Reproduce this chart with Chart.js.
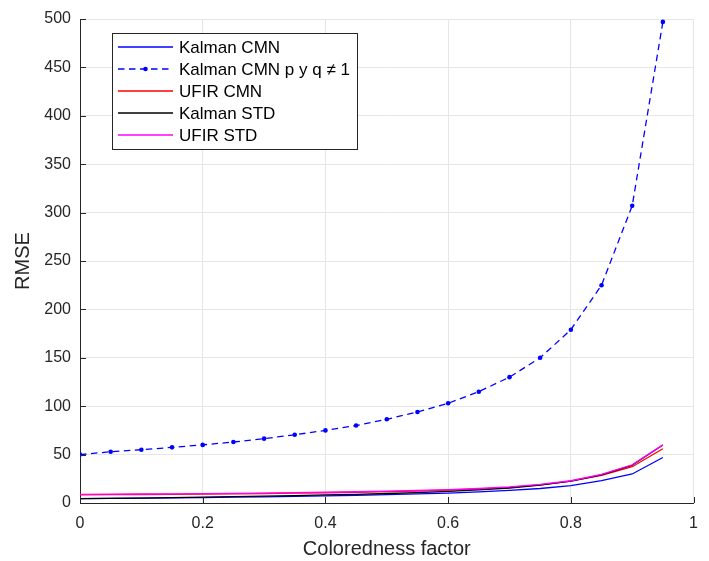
<!DOCTYPE html>
<html>
<head>
<meta charset="utf-8">
<script src="https://cdn.jsdelivr.net/npm/chart.js@4"></script>
<style>
  html, body { margin: 0; padding: 0; background: #fff; }
  #wrap { width: 709px; height: 561px; }
</style>
</head>
<body>
<div id="wrap"><canvas id="rmse-chart" width="709" height="561"></canvas></div>
<script>
// Coloredness factor (x) and RMSE per filter
var factor = [0, 0.05, 0.1, 0.15, 0.2, 0.25, 0.3, 0.35, 0.4, 0.45, 0.5, 0.55, 0.6, 0.65, 0.7, 0.75, 0.8, 0.85, 0.9, 0.95];
var kalmanCMN = [4.5, 4.7, 5, 5.3, 5.6, 6, 6.4, 6.8, 7.3, 7.9, 8.6, 9.4, 10.3, 11.5, 13, 15, 18, 23, 30, 47];
var kalmanCMNpq = [50, 53, 55, 57.5, 60, 63, 66.5, 70.5, 75, 80, 86.5, 94, 103, 115, 130, 150, 179, 225, 307, 497];
var ufirCMN = [8.5, 8.6, 8.8, 9, 9.2, 9.5, 9.8, 10.2, 10.6, 11.1, 11.7, 12.4, 13.3, 14.5, 16.2, 18.7, 22.5, 28.5, 37.5, 56];
var kalmanSTD = [4.5, 4.8, 5.1, 5.5, 6, 6.5, 7, 7.6, 8.3, 9, 9.8, 10.8, 12, 13.5, 15.5, 18.5, 22.5, 29, 39, 60];
var ufirSTD = [9, 9.1, 9.3, 9.5, 9.7, 10, 10.3, 10.7, 11.1, 11.6, 12.2, 12.9, 13.8, 15, 16.7, 19.2, 23, 29.5, 39.5, 60];

var seriesNames = ['Kalman CMN', 'Kalman CMN p y q \u2260 1', 'UFIR CMN', 'Kalman STD', 'UFIR STD'];
var seriesColors = ['#0000ff', '#0000ff', '#ff0000', '#000000', '#ff00ff'];
var seriesValues = [kalmanCMN, kalmanCMNpq, ufirCMN, kalmanSTD, ufirSTD];

var fontFamily = '"Liberation Sans", Arial, Helvetica, sans-serif';
var axisColor = '#262626';
var dashPattern = [6.5, 4.5];

function toPoints(vals) {
    return vals.map(function (v, i) { return { x: factor[i], y: v }; });
}

var datasets = seriesValues.map(function (vals, i) {
    var dashed = (i === 1);
    return {
        label: seriesNames[i],
        data: toPoints(vals),
        borderColor: seriesColors[i],
        backgroundColor: seriesColors[i],
        borderWidth: 1.3,
        borderDash: dashed ? dashPattern : [],
        pointRadius: dashed ? 2.3 : 0,
        pointBorderWidth: 0,
        pointBackgroundColor: seriesColors[i],
        tension: 0,
        order: 5 - i   // later series drawn on top, like MATLAB
    };
});

// inward tick marks and the boxed legend in the upper left
var matlabLook = {
    id: 'matlabLook',
    afterDatasetsDraw: function (chart) {
        var c = chart.ctx;
        var xs = chart.scales.x, ys = chart.scales.y;
        var area = chart.chartArea;
        c.save();
        c.strokeStyle = axisColor;
        c.lineWidth = 1;
        c.beginPath();
        xs.ticks.forEach(function (t) {
            var px = Math.round(xs.getPixelForValue(t.value)) + 0.5;
            c.moveTo(px, area.bottom);
            c.lineTo(px, area.bottom - 6);
        });
        ys.ticks.forEach(function (t) {
            var py = Math.round(ys.getPixelForValue(t.value)) + 0.5;
            c.moveTo(area.left, py);
            c.lineTo(area.left + 6, py);
        });
        c.stroke();

        // legend box
        var bx = 112.5, by = 33.5, bw = 245, bh = 116;
        c.fillStyle = '#ffffff';
        c.fillRect(bx, by, bw, bh);
        c.strokeStyle = axisColor;
        c.lineWidth = 1;
        c.strokeRect(bx, by, bw, bh);
        c.font = '17px ' + fontFamily;
        c.textBaseline = 'middle';
        for (var i = 0; i < seriesNames.length; i++) {
            var ry = Math.round(by + 13 + i * 22);
            c.strokeStyle = seriesColors[i];
            c.lineWidth = 1.5;
            c.setLineDash(i === 1 ? dashPattern : []);
            c.beginPath();
            c.moveTo(118, ry);
            c.lineTo(173, ry);
            c.stroke();
            c.setLineDash([]);
            if (i === 1) {
                c.fillStyle = seriesColors[i];
                c.beginPath();
                c.arc(145.5, ry, 2.3, 0, Math.PI * 2);
                c.fill();
            }
            c.fillStyle = '#000000';
            c.fillText(seriesNames[i], 179, ry + 1);
        }
        c.restore();
    }
};

var ctx = document.getElementById('rmse-chart').getContext('2d');
var rmseChart = new Chart(ctx, {
    type: 'line',
    data: { datasets: datasets },
    options: {
        responsive: false,
        animation: false,
        layout: { padding: { left: 0, right: 11, top: 19, bottom: 0 } },
        plugins: {
            legend: { display: false },
            tooltip: { enabled: false }
        },
        scales: {
            x: {
                type: 'linear',
                min: 0,
                max: 1,
                ticks: {
                    stepSize: 0.2,
                    color: axisColor,
                    font: { family: fontFamily, size: 16 },
                    padding: 11,
                    maxRotation: 0,
                    callback: function (v) { return Math.round(v * 10) / 10; }
                },
                grid: { color: '#e6e6e6', drawTicks: false },
                border: { display: true, color: axisColor, width: 1 },
                title: {
                    display: true,
                    text: 'Coloredness factor',
                    color: axisColor,
                    font: { family: fontFamily, size: 20 },
                    padding: { top: 0, bottom: 0 }
                },
                afterFit: function (scale) { scale.height = 58; }
            },
            y: {
                min: 0,
                max: 500,
                ticks: {
                    stepSize: 50,
                    color: axisColor,
                    font: { family: fontFamily, size: 16 },
                    padding: 9
                },
                grid: { color: '#e6e6e6', drawTicks: false },
                border: { display: true, color: axisColor, width: 1 },
                title: {
                    display: true,
                    text: 'RMSE',
                    color: axisColor,
                    font: { family: fontFamily, size: 20 },
                    padding: { top: 11, bottom: 0 }
                },
                afterFit: function (scale) { scale.width = 80; }
            }
        }
    },
    plugins: [matlabLook]
});
</script>
</body>
</html>
